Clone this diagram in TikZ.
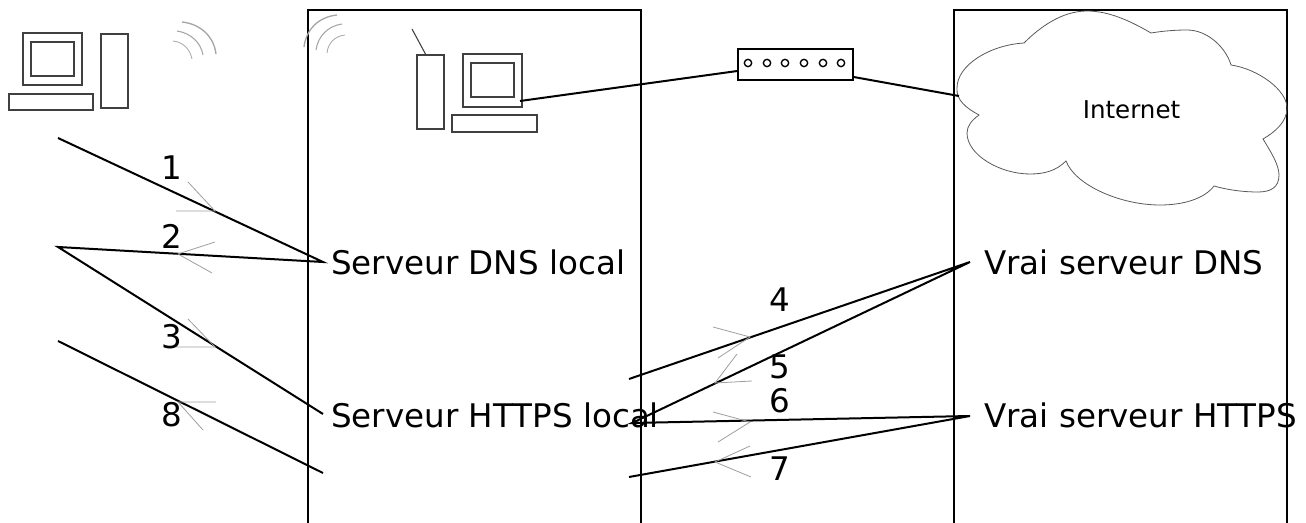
\documentclass[tikz,border=0pt]{standalone}
\usepackage{fontspec}
\setmainfont{DejaVu Sans}
\tikzset{
  frame/.style={draw=black,line width=1.5pt},
  conn/.style={draw=black,line width=1.5pt},
  box/.style={draw=black!75,line width=1.1pt},
  head/.style={draw=black!38,line width=0.6pt},
  wave/.style={draw=black!35,line width=1pt},
  big/.style={inner sep=0pt,anchor=base west,font=\fontsize{24.4}{28}\selectfont},
  num/.style={inner sep=0pt,anchor=base,font=\fontsize{24.4}{28}\selectfont},
  port/.style={circle,draw=black,line width=1pt,minimum size=5.5pt,inner sep=0pt}
}
\begin{document}
\begin{tikzpicture}[x=0.75pt,y=-0.75pt]
\useasboundingbox (0,0) rectangle (1306,523);
% frames
\draw[frame] (308,523) -- (308,10) -- (641,10) -- (641,523);
\draw[frame] (954,523) -- (954,10) -- (1287,10) -- (1287,523);
% client computer
\draw[box] (23,33) rectangle (82,85);
\draw[box] (31,42) rectangle (74,76);
\draw[box] (9,94) rectangle (93,110);
\draw[box] (101,34) rectangle (128,108);
% waves
\draw[wave] (182,22) .. controls (201,24) and (214,37) .. (216,54);
\draw[wave,line width=.8pt] (177,31) .. controls (191,33) and (201,43) .. (203,55);
\draw[wave,line width=.6pt] (173,41) .. controls (183,42) and (190,49) .. (192,59);
\draw[wave] (337,15) .. controls (318,17) and (306,30) .. (304,47);
\draw[wave,line width=.8pt] (342,24) .. controls (328,26) and (318,36) .. (316,50);
\draw[wave,line width=.6pt] (345,35) .. controls (335,36) and (328,43) .. (327,53);
% server computer
\draw[box] (417,55) rectangle (444,129);
\draw[box,line width=.8pt] (412,29) -- (426,55);
\draw[box] (463,54) rectangle (522,107);
\draw[box] (471,63) rectangle (514,97);
\draw[box] (452,115) rectangle (537,132);
\coordinate (screen) at (520,101);
% hub
\node[draw=black,line width=1.3pt,minimum width=86.25pt,minimum height=23.25pt,inner sep=0pt] (hub) at (795.5,64.5) {};
\foreach \i/\x in {1/748,2/767,3/785,4/804,5/823,6/841}
  \node[port] (hubport\i) at (\x,63) {};
% cloud
\draw[draw=black!65,line width=.6pt] (1024,43)
  .. controls (1040,27) and (1062,11) .. (1087,11)
  .. controls (1110,11) and (1132,22) .. (1151,33)
  .. controls (1163,31) and (1175,30) .. (1187,30)
  .. controls (1208,30) and (1226,48) .. (1231,65)
  .. controls (1258,69) and (1287,90) .. (1287,108)
  .. controls (1287,122) and (1275,132) .. (1263,139)
  .. controls (1271,152) and (1279,165) .. (1279,175)
  .. controls (1279,188) and (1270,192) .. (1258,192)
  .. controls (1243,192) and (1228,190) .. (1214,186)
  .. controls (1205,198) and (1185,205) .. (1160,205)
  .. controls (1120,205) and (1075,185) .. (1066,161)
  .. controls (1056,171) and (1044,174) .. (1030,174)
  .. controls (1000,174) and (967,155) .. (967,133)
  .. controls (967,126) and (972,120) .. (979,115)
  .. controls (966,108) and (956,100) .. (957,88)
  .. controls (957,65) and (990,45) .. (1024,43) -- cycle;
\node[inner sep=0pt,anchor=base,font=\fontsize{18.4}{22}\selectfont] (inet) at (1131.5,118.5) {Internet};
\coordinate (cl) at (959,96);
\draw[conn] (screen) -- ([yshift=-4.9pt]hub.west);
\draw[conn] ([yshift=-9.4pt]hub.east) -- (cl);
% text
\node[big] (dnsl) at (331,275) {Serveur DNS local};
\node[big] (httpl) at (331,427.5) {Serveur HTTPS local};
\node[big] (dnsv) at (984,275) {Vrai serveur DNS};
\node[big] (httpv) at (984,427.5) {Vrai serveur HTTPS};
% end points
\coordinate (c1) at (58,138);
\coordinate (c2) at (58,247);
\coordinate (c8) at (58,341);
\coordinate (s1) at (323,262);
\coordinate (s3) at (323,414);
\coordinate (s8) at (323,473);
\coordinate (l4) at (629,379);
\coordinate (l5) at (632,423);
\coordinate (l7) at (629,477);
\coordinate (r1) at (970,262);
\coordinate (r2) at (970,416);
\draw[conn] (c1) -- (s1) -- (c2) -- (s3);
\draw[conn] (c8) -- (s8);
\draw[conn] (l4) -- (r1) -- (l5) -- (r2) -- (l7);
% arrowheads
\draw[head] (188,182) -- (215,211) -- (176,211);
\draw[head] (215,242) -- (178,254) -- (212,273);
\draw[head] (188,319) -- (215,347) -- (176,347);
\draw[head] (216,402) -- (178,402) -- (203,430);
\draw[head] (713,327) -- (750,337) -- (718,358);
\draw[head] (737,354) -- (715,383) -- (752,381);
\draw[head] (713,412) -- (750,422) -- (718,442);
\draw[head] (750,446) -- (715,462) -- (751,477);
% numbers
\node[num] (n1) at (172,180) {1};
\node[num] (n2) at (172,249) {2};
\node[num] (n3) at (172,349) {3};
\node[num] (n8) at (172,427) {8};
\node[num] (n4) at (780,312) {4};
\node[num] (n5) at (780,379) {5};
\node[num] (n6) at (780,413) {6};
\node[num] (n7) at (780,481) {7};
\end{tikzpicture}
\end{document}
